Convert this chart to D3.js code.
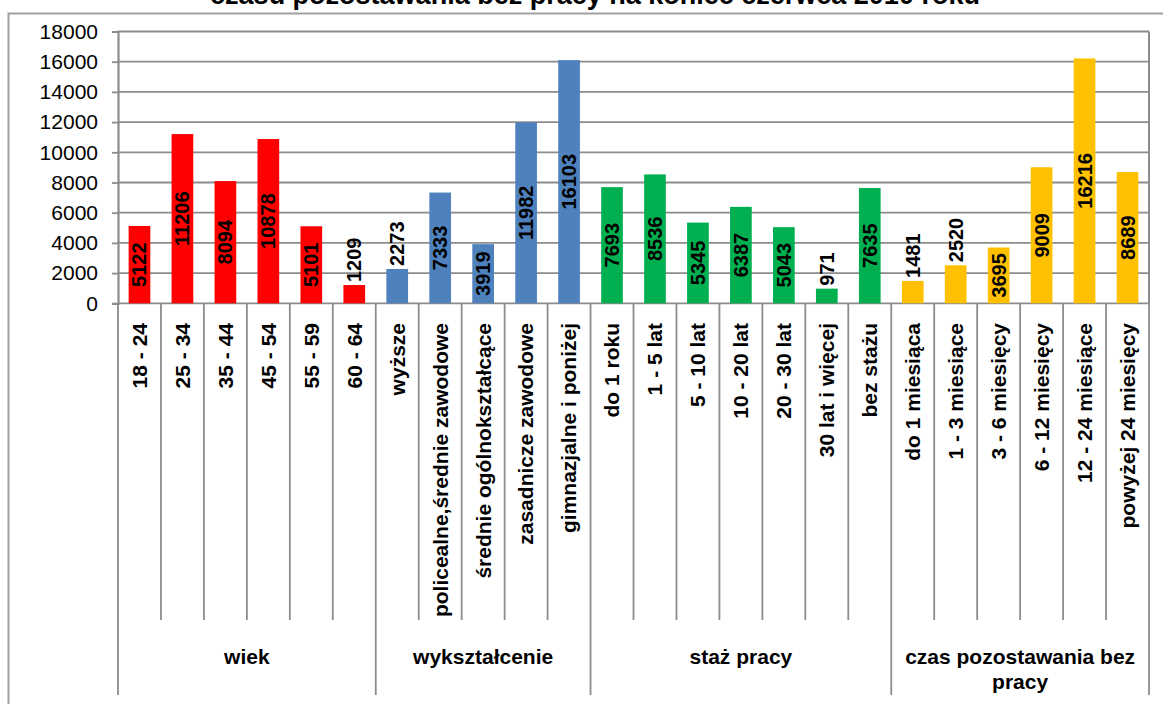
<!DOCTYPE html>
<html>
<head>
<meta charset="utf-8">
<script src="https://cdn.jsdelivr.net/npm/d3@7"></script>
<style>
    body { margin: 0; background: #fff; }
    svg { display: block; font-family: "Liberation Sans", Arial, sans-serif; }
</style>
</head>
<body>
<div id="chart"></div>
<script>
'use strict';

// title (only the second line is visible in the picture)
const titleText = 'czasu pozostawania bez pracy na koniec czerwca 2010 roku';

// groups
const groupNames = ['wiek', 'wykształcenie', 'staż pracy', 'czas pozostawania bez pracy'];

// categories and values per group
const wiekLabels = ['18 - 24', '25 - 34', '35 - 44', '45 - 54', '55 - 59', '60 - 64'];
const wiekValues = [5122, 11206, 8094, 10878, 5101, 1209];

const wyksztalcenieLabels = ['wyższe', 'policealne,średnie zawodowe', 'średnie ogólnokształcące',
    'zasadnicze zawodowe', 'gimnazjalne i poniżej'];
const wyksztalcenieValues = [2273, 7333, 3919, 11982, 16103];

const stazLabels = ['do 1 roku', '1 - 5 lat', '5 - 10 lat', '10 - 20 lat', '20 - 30 lat',
    '30 lat i więcej', 'bez stażu'];
const stazValues = [7693, 8536, 5345, 6387, 5043, 971, 7635];

const czasLabels = ['do 1 miesiąca', '1 - 3 miesiące', '3 - 6 miesięcy', '6 - 12 miesięcy',
    '12 - 24 miesiące', 'powyżej 24 miesięcy'];
const czasValues = [1481, 2520, 3695, 9009, 16216, 8689];

// y axis ticks
const yTicks = [0, 2000, 4000, 6000, 8000, 10000, 12000, 14000, 16000, 18000];

// colour per group
const groupColors = ['#ff0000', '#4f81bd', '#00b050', '#ffc000'];

//------------------------------------------------------------
// build flat table
//------------------------------------------------------------
const groupLabels = [wiekLabels, wyksztalcenieLabels, stazLabels, czasLabels];
const groupValues = [wiekValues, wyksztalcenieValues, stazValues, czasValues];

const rows = [];
const groupSpans = [];
groupLabels.forEach((labels, g) => {
    const start = rows.length;
    labels.forEach((lab, i) => {
        rows.push({group: g, label: lab, value: groupValues[g][i]});
    });
    groupSpans.push({group: g, start: start, end: rows.length});
});

// Config
const w = 1163;
const h = 704;
const plotL = 118;
const plotR = 1149;
const plotT = 31.5;
const plotB = 303.3;
const catLineEnd = 620;
const groupLineEnd = 695;
const gridColor = '#8c8c8c';

const svg = d3.select('#chart')
    .append('svg')
    .attr('width', w)
    .attr('height', h);

svg.append('rect')
    .attr('width', w)
    .attr('height', h)
    .attr('fill', '#fff');

// outer chart border (right and bottom are off the picture)
svg.append('path')
    .attr('d', `M8.5,${h + 2} L8.5,13.5 L${w + 2},13.5`)
    .attr('fill', 'none')
    .attr('stroke', '#a0a0a0')
    .attr('stroke-width', 2);

// title
svg.append('text')
    .attr('x', 595)
    .attr('y', 4)
    .attr('text-anchor', 'middle')
    .style('font-size', '27px')
    .style('font-weight', 'bold')
    .text(titleText);

// scales
const xScale = d3.scaleBand()
    .domain(d3.range(rows.length))
    .range([plotL, plotR])
    .padding(0);

const yScale = d3.scaleLinear()
    .domain([0, 18000])
    .range([plotB, plotT]);

const step = xScale.step();
const barW = xScale.bandwidth() * 0.505;

// grid lines
svg.append('g')
    .attr('class', 'grid')
    .selectAll('line')
    .data(yTicks)
    .join('line')
    .attr('x1', plotL)
    .attr('x2', plotR)
    .attr('y1', d => yScale(d))
    .attr('y2', d => yScale(d))
    .attr('stroke', gridColor)
    .attr('stroke-width', 1.8);

// right border of plot
svg.append('line')
    .attr('x1', plotR).attr('x2', plotR)
    .attr('y1', plotT).attr('y2', plotB)
    .attr('stroke', gridColor)
    .attr('stroke-width', 2);

// y axis
const yAxis = d3.axisLeft(yScale)
    .tickValues(yTicks)
    .tickSize(6)
    .tickPadding(14)
    .tickFormat(d3.format('d'));

const yAxisG = svg.append('g')
    .attr('transform', `translate(${plotL},0)`)
    .call(yAxis);

yAxisG.select('.domain')
    .attr('stroke', gridColor)
    .attr('stroke-width', 2.2);
yAxisG.selectAll('.tick line')
    .attr('stroke', gridColor)
    .attr('stroke-width', 1.8);
yAxisG.selectAll('.tick text')
    .attr('fill', '#000')
    .style('font-size', '21px')
    .style('font-family', '"Liberation Sans", Arial, sans-serif');

// category separators (longer at group borders)
const boundaries = d3.range(rows.length + 1);
const groupStarts = new Set(groupSpans.map(s => s.start).concat([rows.length]));

svg.append('g')
    .attr('class', 'separators')
    .selectAll('line')
    .data(boundaries)
    .join('line')
    .attr('x1', i => plotL + i * step)
    .attr('x2', i => plotL + i * step)
    .attr('y1', plotB)
    .attr('y2', i => groupStarts.has(i) ? groupLineEnd : catLineEnd)
    .attr('stroke', gridColor)
    .attr('stroke-width', 1.8);

// bars
svg.append('g')
    .attr('class', 'bars')
    .selectAll('rect')
    .data(rows)
    .join('rect')
    .attr('x', (d, i) => xScale(i) + (xScale.bandwidth() - barW) / 2)
    .attr('y', d => yScale(d.value))
    .attr('width', barW)
    .attr('height', d => plotB - yScale(d.value))
    .attr('fill', d => groupColors[d.group]);

// value labels: centred in the bar, above it if it does not fit
svg.append('g')
    .attr('class', 'valueLabels')
    .selectAll('text')
    .data(rows)
    .join('text')
    .attr('text-anchor', 'middle')
    .attr('dy', '0.35em')
    .style('font-size', '20px')
    .style('font-weight', 'bold')
    .text(d => d.value)
    .each(function(d, i) {
        const t = d3.select(this);
        const len = this.getComputedTextLength();
        const top = yScale(d.value);
        const barH = plotB - top;
        const cx = xScale(i) + xScale.bandwidth() / 2;
        const cy = (len + 6 > barH) ? top - 3 - len / 2 : top + barH / 2;
        t.attr('transform', `translate(${cx},${cy}) rotate(-90)`);
    });

// category labels
svg.append('g')
    .attr('class', 'catLabels')
    .selectAll('text')
    .data(rows)
    .join('text')
    .attr('transform', (d, i) => `translate(${xScale(i) + xScale.bandwidth() / 2},323) rotate(-90)`)
    .attr('text-anchor', 'end')
    .attr('dy', '0.35em')
    .style('font-size', '21px')
    .style('font-weight', 'bold')
    .text(d => d.label);

// group labels, wrapped to the group width
const groupG = svg.append('g')
    .attr('class', 'groupLabels');

groupSpans.forEach(span => {
    const x0 = plotL + span.start * step;
    const x1 = plotL + span.end * step;
    const maxW = x1 - x0 - 10;
    const words = groupNames[span.group].split(' ');

    const t = groupG.append('text')
        .attr('text-anchor', 'middle')
        .style('font-size', '21px')
        .style('font-weight', 'bold');

    let lines = [];
    let line = [];
    const probe = t.append('tspan');
    words.forEach(word => {
        line.push(word);
        probe.text(line.join(' '));
        if (probe.node().getComputedTextLength() > maxW && line.length > 1) {
            line.pop();
            lines.push(line.join(' '));
            line = [word];
        }
    });
    lines.push(line.join(' '));
    probe.remove();

    lines.forEach((l, k) => {
        t.append('tspan')
            .attr('x', (x0 + x1) / 2)
            .attr('y', 657 + k * 25)
            .attr('dy', '0.35em')
            .text(l);
    });
});
</script>
</body>
</html>
